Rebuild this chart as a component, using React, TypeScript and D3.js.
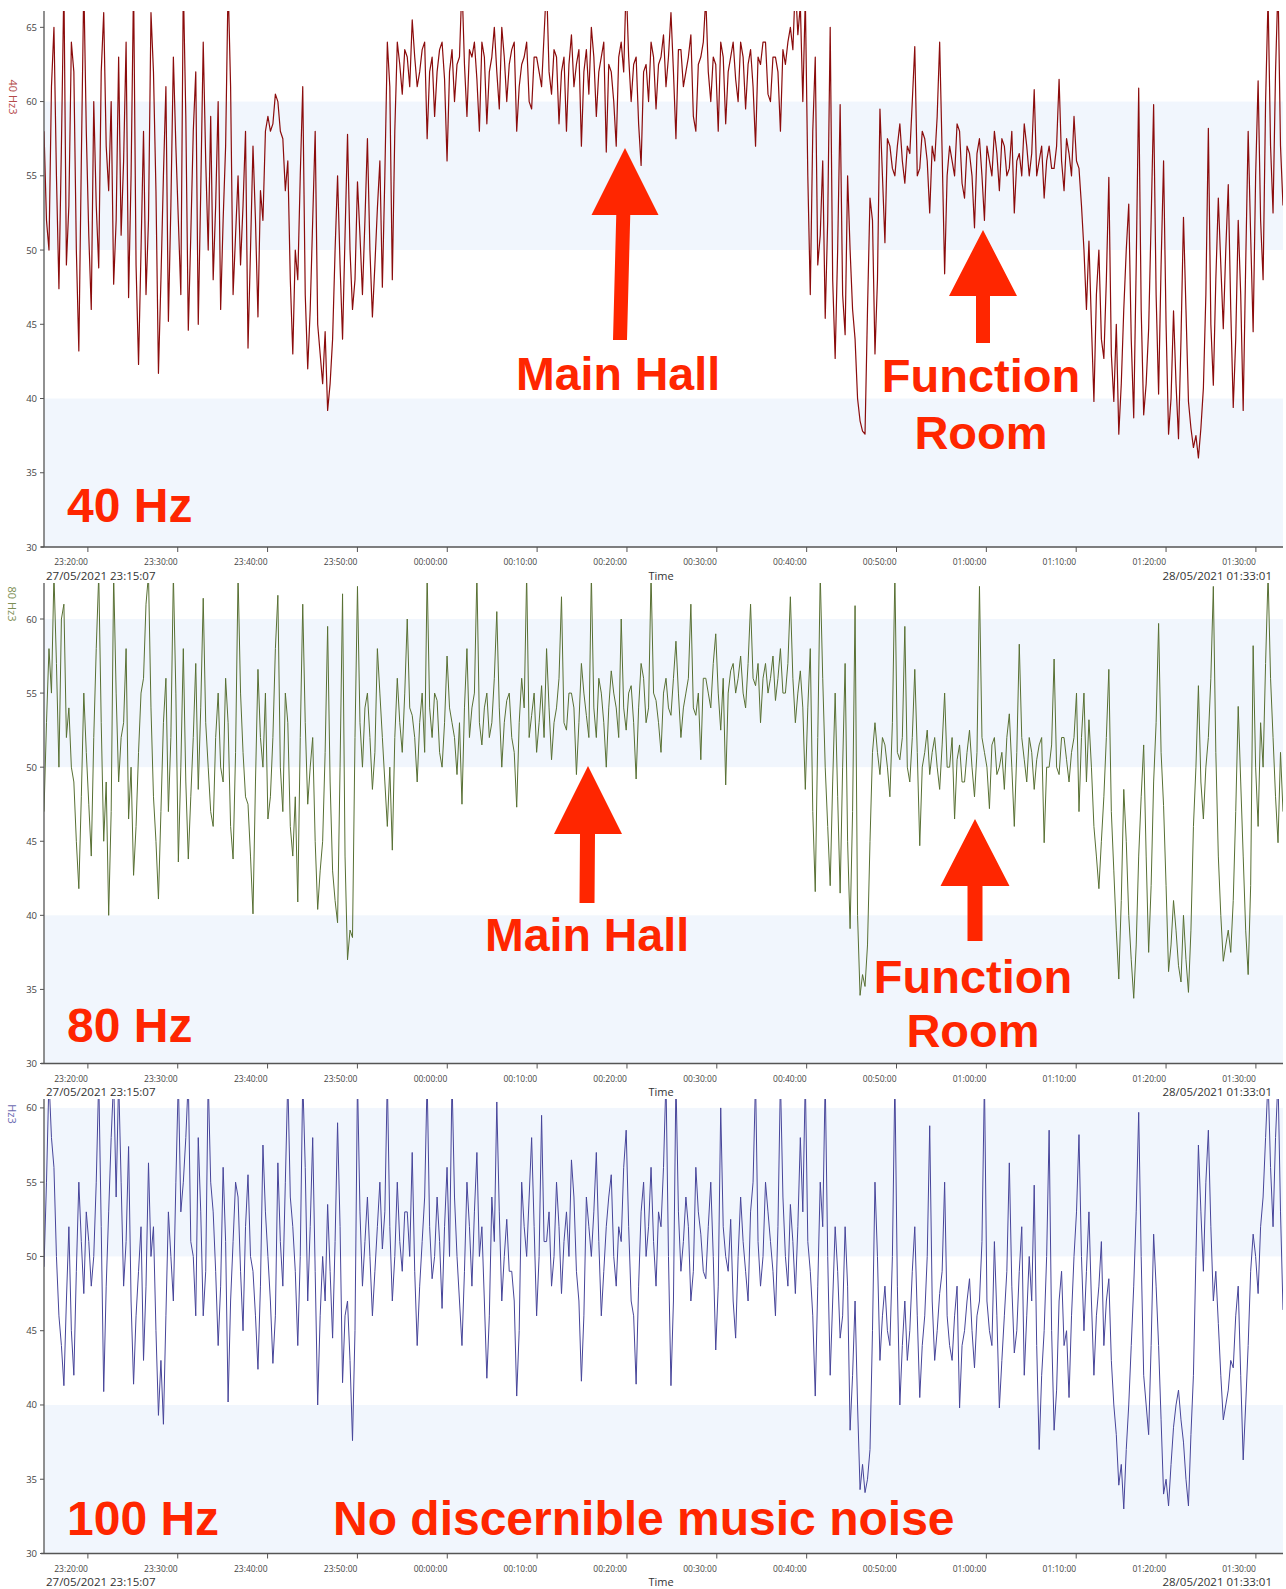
import React, { useEffect } from 'react';
import * as d3 from 'd3';

// ---------- data ----------
const startTime = new Date(2021, 4, 27, 23, 15, 7);
const endTime = new Date(2021, 4, 28, 1, 33, 1);
const startLabel = '27/05/2021 23:15:07';
const endLabel = '28/05/2021 01:33:01';
const axisTitle = 'Time';

// 40 Hz band level (dB), evenly spaced samples over the time span
const hz40: number[] = [
  58, 52, 50, 61, 65, 55, 47.4, 57, 68, 49, 53, 64, 62, 50, 43.2, 56, 68, 58, 51, 46,
  60, 53, 48.8, 62, 66, 57, 54, 60, 47.7, 52, 63, 51, 56, 64, 46.8, 55, 68, 49, 42.3, 50,
  58, 47, 52, 66, 62, 54, 41.7, 48, 55, 61, 45.2, 53, 63, 57, 52, 47, 68, 59, 44.6, 51,
  58, 62, 45, 54, 64, 56, 50, 59, 48, 53, 60, 46, 52, 57, 68, 61, 47, 51, 55, 49,
  53, 58, 43.4, 50, 57, 52, 45.5, 54, 52, 58,
  59, 58, 58.5, 60.5, 60, 58, 57.5, 54,
  56, 48, 43, 50, 48, 55, 61, 47, 42, 46, 52, 58, 45, 43, 41, 44.5, 39.2, 41, 44, 50,
  55, 49, 44, 51, 57.8, 50, 46, 48, 54.6, 51, 47, 52, 57.5, 50, 45.5, 49, 52.8, 56, 47.5, 55,
  64, 61, 48, 58,
  // main hall
  64, 62.5, 60.5, 63.5, 63, 61, 65.5, 63, 61, 62, 63.5, 64, 57.5, 62, 63, 59, 62, 63.5, 64, 61.5,
  56, 62, 63.5, 60, 62.5, 63, 68, 62.5, 59, 63.5, 63, 64, 61.5, 58, 64, 63, 58.5, 62, 63, 65,
  62, 59.5, 65, 63, 60, 62.5, 63.5, 64, 58, 61, 62.5, 63, 64, 60, 59.5, 63, 63, 62, 61, 64.5,
  68, 62, 60.5, 63.5, 63, 58.5, 62, 63, 58, 62.5, 64.5, 61, 62.5, 63.5, 57, 62, 63.5, 60.5, 65, 63,
  59, 62, 63, 64, 56.6, 62.5, 62, 60, 57, 63, 64, 62, 68, 63, 60, 62.5, 63, 58.5, 55.7, 62,
  62.5, 60, 64, 63, 59.5, 62.5, 63, 64.5, 61, 63, 66, 62, 57.5, 63.5, 63.5, 61, 62, 63, 64.5, 59,
  58, 62.5, 63, 64, 67, 62, 60, 63, 62.5, 58, 64, 63, 58.5, 62, 63, 64, 61.5, 60, 64, 63,
  59.5, 62.5, 63.5, 61, 57, 63, 62.5, 64, 64, 60.5, 60, 63, 63, 62, 58, 63.5, 62.5, 64, 65, 63.5,
  68, 64.5,
  66.5, 60, 67, 55, 47, 58, 63, 49, 51, 56, 45.4, 52, 65, 48, 42.7, 50, 59.8, 47, 44.3, 55,
  50, 46, 44, 40, 38.5, 37.8, 37.6, 46,
  53.5, 52, 43, 48, 59.5, 55, 50.5, 57.5,
  // function room
  57, 55.5, 55, 57, 58.5, 56, 54.5, 57, 56.5, 60, 63.7, 55, 55.5, 58, 57.5, 56, 52.5, 57, 56, 59,
  64, 56.5, 48.4, 55, 57, 56, 55, 58.5, 58, 54.5, 53.5, 57, 56.5, 55, 51.5, 56.5, 57.5, 55, 52, 57,
  56, 55, 58, 56.5, 54, 57.5, 57, 55, 55.5, 58, 52.5, 56, 56.5, 55, 58.5, 57, 55, 56.5, 60.8, 55,
  56, 57, 53.5, 56, 57, 55.5, 55.5, 57, 61.5, 56, 54, 57.5, 56.5, 55,
  59, 56, 55.5, 53, 50, 46,
  50.6, 45, 39.8, 47, 50, 44, 42.7, 48, 54.9, 43, 39.8, 45, 37.6, 41, 46, 50, 53.1, 44, 38.7, 49,
  60.9, 46, 38.9, 41, 44.7, 52, 59.8, 47, 40.3, 49, 56, 45, 37.6, 40, 45.9, 41, 37.3, 44, 52.2, 46,
  39.8, 38, 36.7, 37.5, 36, 38, 40.7, 47, 58.2, 45, 40.9, 48, 53.5, 49, 44.7, 50, 54.4, 46, 39.4, 44,
  52, 47, 39.2, 49,
  58, 51, 44.5, 55, 61.4, 52, 48, 60, 67, 57, 52.5, 62, 68, 57, 53,
];

// 80 Hz band level (dB)
const hz80: number[] = [
  47, 53, 58, 55, 63, 57, 50, 60, 61, 52, 54, 50, 49, 45, 41.8, 48, 55, 51, 47.5, 44,
  52, 58, 63, 53, 45, 49, 40, 47, 63, 55, 49, 52, 53, 58, 46.5, 50, 42.7, 46, 51, 55,
  56, 61, 63, 54, 48, 45, 41.1, 47, 53, 56, 47, 52, 63, 55, 43.6, 50, 58, 49, 43.8, 48,
  52, 57, 48.5, 54, 61.4, 53, 50, 47, 46, 52, 55, 50, 49, 56, 53, 46, 43.8, 51, 63, 55,
  51, 48, 47.5, 44, 40.1, 49, 56.6, 52, 50, 55, 46.5, 48, 52, 58,
  61.6, 50, 47, 55, 53, 46, 44, 48, 40.9, 52, 61, 53, 47.5, 50, 52, 45,
  40.4, 43, 45, 51, 59.5, 49, 43, 41, 39.5, 50, 61.7, 44, 37, 39, 38.5, 52,
  // main hall
  62.2, 53, 50, 54, 55, 52, 48.5, 51, 58, 55, 52, 49, 46, 50, 44.4, 52, 56, 53, 51, 55,
  60, 54, 53.5, 52, 49, 53, 55, 51, 63, 54, 52, 55, 54.5, 51, 50, 53, 57.5, 54, 53, 52,
  49.5, 53, 47.5, 54, 58, 52, 54, 55, 63, 53, 51.5, 54, 55, 52, 53, 56, 60.5, 54, 50, 53,
  54.5, 55, 52, 51, 47.3, 53, 56, 54, 63, 52, 53.5, 55, 51, 53, 55.5, 52, 58, 54, 50.5, 53,
  54, 56, 61.5, 53, 52.5, 55, 55, 54, 49.5, 53, 57, 55, 53.5, 52, 63, 54, 52, 56, 55, 53,
  50, 54, 56.5, 55, 54, 52, 60, 54, 52.5, 55, 55.5, 53, 49.2, 54, 57, 56, 53, 54, 63, 55,
  54.5, 53, 51, 55, 56, 54, 53.5, 56, 58.5, 55, 52, 54, 55, 56, 61, 54, 53.5, 55, 50.5, 56,
  56, 55, 54, 57, 59, 55, 52.5, 56, 48.8, 55, 56.5, 57, 55, 56, 57.5, 55, 54, 57, 61, 56,
  55.5, 57, 53, 56, 57, 55, 56, 57.5, 54.5, 56, 58, 55, 55, 57, 61.5, 56, 53, 55, 56.5, 54,
  48.5, 54, 58, 47, 41.6, 52, 63, 56, 50, 46, 42, 49, 55, 48, 41.5, 50, 57, 45, 39.1, 47,
  60.9, 40, 34.6, 36, 35.2, 38, 45, 51,
  // function room
  53, 51, 49.5, 52, 51.5, 50, 48, 53, 63, 51, 50.5, 52, 59.5, 50, 49, 52, 56.6, 51, 44.7, 50,
  51, 52.5, 49.5, 51, 52, 50, 48.5, 51.5, 55, 50, 50, 52, 46.5, 50.5, 51.5, 49, 49, 51, 52.5, 50,
  48, 51, 62.2, 52, 51, 50, 47.2, 51.5, 52, 49.5, 50, 51, 48.5, 52, 53.6, 50, 46, 51, 58.3, 52,
  50.5, 49, 52, 51, 48.5, 50.5, 51.5, 52, 44.9, 50, 50, 51.5, 57.3, 50, 49.5, 52, 52, 50.5, 49, 51,
  52, 55,
  47, 52, 55, 49, 53.2, 50, 46, 44, 41.8, 45, 48, 52, 56.6, 47, 43, 39, 35.7, 41, 48.5, 45,
  40, 37, 34.4, 38, 44, 48, 51.5, 44, 37.5, 42, 49, 53, 59.7, 51, 47.4, 42, 36.2, 38, 41, 39,
  36.6, 35.5, 40, 37, 34.8, 39, 46, 50, 55.5, 49, 46.5, 50, 52, 56, 62.2, 51, 44, 40, 36.9, 38,
  39, 37.5, 41, 47, 54.1, 49, 44, 39, 36, 42, 58.2, 50, 46, 53, 50, 57, 63, 56, 52, 48,
  44.9, 51, 47,
];

// 100 Hz band level (dB)
const hz100: number[] = [
  49.3, 55, 62, 58, 56, 50, 46, 44, 41.3, 47, 52, 45, 42, 49, 55, 51, 47.5, 53, 51, 48,
  50, 55, 62, 52, 40.9, 48, 53, 58, 62, 54, 62, 55, 48, 51, 57.4, 47, 41.4, 46, 49, 52,
  43, 48, 56.3, 50, 52, 45, 39.3, 43, 38.7, 46,
  53, 50, 47, 55, 62, 53, 55, 58, 62, 51, 50, 46, 58, 53, 46, 49, 62, 55, 53, 49,
  44, 48, 56, 51, 40.2, 47, 51, 55, 54, 49, 45, 52, 55.5, 50, 49, 46, 42.4, 48, 57.5, 53,
  50, 47, 42.8, 46, 56.3, 51, 48, 55, 62, 54, 52, 49, 44, 50, 62, 56, 47, 52, 58, 49,
  40, 46, 50, 47, 53.5, 49, 44.5, 51, 59, 52, 41.5, 46, 47, 43, 37.6, 45,
  62, 53, 48, 51, 54, 50, 46, 49, 52, 55, 50.5, 53, 62, 52, 47, 50, 55, 51, 49, 53,
  53, 50, 57, 49, 44, 48, 51, 54, 62, 52, 48.5, 50, 54, 51, 46.5, 52, 56, 50, 62, 54,
  50, 47, 44, 49, 55, 52, 48, 53, 57, 50, 52, 47, 41.8, 46, 54, 51, 60.4, 53, 47, 50,
  52.5, 49, 49, 47, 40.6, 45, 55, 52, 50, 54, 58, 52, 46, 50, 59.5, 51, 51, 53, 48, 50,
  55, 52, 47.5, 51, 53, 50, 56.5, 54, 49, 47, 41.6, 46, 54, 52, 50, 53, 57, 51, 46, 49,
  52, 54, 55.5, 50, 48, 52, 51, 56, 58.5, 52, 47, 46, 41.4, 48, 53, 55, 50, 52, 56, 51,
  48, 53, 52, 56, 62, 50, 41.3, 47, 62, 53, 49, 51, 54, 52, 47, 49, 56, 53, 51.5, 49,
  48.5, 52, 55, 50, 43.7, 48, 60, 52, 50, 49, 52.5, 47, 44.5, 50, 54, 51, 49, 47, 53, 55,
  62, 51, 48, 50, 55, 53, 51, 49, 46, 52, 62, 54, 50, 48, 53.5, 51, 47.5, 52, 58, 53,
  62, 51, 49, 46, 40.6, 48, 55, 52, 62, 50, 42, 47, 52, 49, 44.5, 46, 52, 48, 38.3, 42,
  47, 40, 34.3, 36, 34.1, 35, 37, 45, 55, 50, 43, 46,
  48, 45, 44, 50, 62, 48, 40, 44, 47, 43, 45, 49, 52, 46, 40.5, 44, 46, 50, 58.8, 47,
  43, 45, 47.5, 49, 55, 46, 44, 43, 46, 48, 39.8, 44, 45, 47, 48.5, 45, 42.5, 46, 47, 51,
  62, 47, 45, 44, 51, 46, 39.8, 43, 46, 49, 56.3, 48, 43.5, 45, 49, 52, 42, 46, 50, 47,
  54.8, 44, 37, 42, 45, 50, 58.5, 45, 38.3, 41, 47, 49, 44, 45, 40.5, 46, 50, 53,
  58.2, 50, 45, 49, 53, 47, 42, 46, 48, 51, 44, 47, 48.5, 43, 40, 38, 34.6, 36, 33, 37,
  40, 44, 48, 53, 59.7, 50, 42, 40, 38, 44, 51.5, 48, 44, 39, 34, 35, 33.2, 36, 38.5, 40,
  41, 39, 37.5, 35, 33.2, 38, 42, 50, 57.5, 53, 49, 55, 58.5, 52, 47, 49, 45.5, 42, 39, 40,
  41, 43, 42.5, 46, 48, 42, 36.3, 40, 44, 49, 51.5, 50, 47.5, 52, 54, 58, 62, 56, 52, 58,
  62, 53, 46.4,
];

const yTickValues = [30, 35, 40, 45, 50, 55, 60, 65];
const bandRanges: [number, number][] = [[30, 40], [50, 60]];

// ---------- layout ----------
const W = 1286;
const H = 1589;
const LEFT = 44;
const RIGHT = 1283;
const RED = '#ff2600';
const TEXT_FONT = "'Open Sans', 'DejaVu Sans', sans-serif";
const ANNOT_FONT = "'Liberation Sans', Arial, sans-serif";

type Panel = {
  values: number[];
  color: string;
  labelColor: string;
  top: number;
  bottom: number;
  yMax: number;
  yLabel: string;
  yLabelX: number;
  yLabelY: number;
  strokeWidth: number;
};

const panels: Panel[] = [
  { values: hz40, color: '#8b0c0c', labelColor: '#b44a4a', top: 11, bottom: 547, yMax: 66.1, yLabel: '40 Hz3', yLabelX: 13, yLabelY: 97, strokeWidth: 1.2 },
  { values: hz80, color: '#587033', labelColor: '#7d8f55', top: 583, bottom: 1063.5, yMax: 62.43, yLabel: '80 Hz3', yLabelX: 12, yLabelY: 604, strokeWidth: 1.0 },
  { values: hz100, color: '#47459a', labelColor: '#6a68b0', top: 1099, bottom: 1553.5, yMax: 60.6, yLabel: 'Hz3', yLabelX: 12, yLabelY: 1114, strokeWidth: 1.0 },
];

type Arrow = { tx: number; ty: number; headW: number; headH: number; shaftW: number; by: number; bx: number };
const arrows: Arrow[] = [
  { tx: 625, ty: 148, headW: 67, headH: 67, shaftW: 14, by: 340, bx: 620 },
  { tx: 983, ty: 230, headW: 68, headH: 66, shaftW: 14, by: 343, bx: 983 },
  { tx: 588, ty: 766, headW: 68, headH: 68, shaftW: 15, by: 903, bx: 587 },
  { tx: 975, ty: 819, headW: 69, headH: 67, shaftW: 15, by: 941, bx: 975 },
];

type Label = { text: string; x: number; y: number; anchor: 'start' | 'middle'; size: number };
const labels: Label[] = [
  { text: 'Main Hall', x: 618, y: 390, anchor: 'middle', size: 46.5 },
  { text: 'Function', x: 981, y: 392, anchor: 'middle', size: 47 },
  { text: 'Room', x: 981, y: 449, anchor: 'middle', size: 47 },
  { text: '40 Hz', x: 67, y: 522, anchor: 'start', size: 48 },
  { text: 'Main Hall', x: 587, y: 951, anchor: 'middle', size: 46.5 },
  { text: 'Function', x: 973, y: 993, anchor: 'middle', size: 47 },
  { text: 'Room', x: 973, y: 1047, anchor: 'middle', size: 47 },
  { text: '80 Hz', x: 67, y: 1042, anchor: 'start', size: 48 },
  { text: '100 Hz', x: 67, y: 1535, anchor: 'start', size: 48 },
  { text: 'No discernible music noise', x: 333, y: 1535, anchor: 'start', size: 48 },
];

function arrowPath(a: Arrow): string {
  const hy = a.ty + a.headH;
  const stx = a.tx + (a.bx - a.tx) * (a.headH / (a.by - a.ty));
  const p = d3.path();
  p.moveTo(a.tx, a.ty);
  p.lineTo(a.tx + a.headW / 2, hy);
  p.lineTo(stx + a.shaftW / 2, hy);
  p.lineTo(a.bx + a.shaftW / 2, a.by);
  p.lineTo(a.bx - a.shaftW / 2, a.by);
  p.lineTo(stx - a.shaftW / 2, hy);
  p.lineTo(a.tx - a.headW / 2, hy);
  p.closePath();
  return p.toString();
}

const x = d3.scaleTime().domain([startTime, endTime]).range([LEFT, RIGHT]);
const xTicks = x.ticks(d3.timeMinute.every(10) as d3.TimeInterval);
const fmt = d3.timeFormat('%H:%M:%S');

function PanelView({ p, idx }: { p: Panel; idx: number }) {
  const y = d3.scaleLinear().domain([30, p.yMax]).range([p.bottom, p.top]);
  const n = p.values.length;
  const span = endTime.getTime() - startTime.getTime();
  const pts: [Date, number][] = p.values.map((v, i) => [new Date(startTime.getTime() + (i * span) / (n - 1)), v]);
  const line = d3.line<[Date, number]>().x((d) => x(d[0])).y((d) => y(d[1]));
  const ticks = yTickValues.filter((t) => t <= p.yMax);
  const clipId = `clip-${idx}`;
  return (
    <g>
      <defs>
        <clipPath id={clipId}>
          <rect x={LEFT} y={p.top} width={RIGHT - LEFT} height={p.bottom - p.top} />
        </clipPath>
      </defs>
      {bandRanges.map(([a, b], i) => (
        <rect key={i} x={LEFT} y={y(b)} width={RIGHT - LEFT} height={y(a) - y(b)} fill="#f1f6fd" />
      ))}
      <path d={line(pts) || ''} fill="none" stroke={p.color} strokeWidth={p.strokeWidth} strokeLinejoin="round" clipPath={`url(#${clipId})`} />
      {/* y axis */}
      <line x1={LEFT} x2={LEFT} y1={p.top} y2={p.bottom} stroke="#555" strokeWidth={1.3} />
      {ticks.map((t) => (
        <g key={t}>
          <line x1={LEFT - 4} x2={LEFT} y1={y(t)} y2={y(t)} stroke="#555" strokeWidth={1} />
          <text x={LEFT - 7} y={y(t)} textAnchor="end" dominantBaseline="central" fontSize={9.5} fill="#444" fontFamily={TEXT_FONT}>{t}</text>
        </g>
      ))}
      <text transform={`translate(${p.yLabelX},${p.yLabelY}) rotate(90)`} textAnchor="middle" dominantBaseline="central" fontSize={11} fill={p.labelColor} fontFamily={TEXT_FONT}>{p.yLabel}</text>
      {/* x axis */}
      <line x1={LEFT - 3} x2={RIGHT} y1={p.bottom} y2={p.bottom} stroke="#555" strokeWidth={1.3} />
      {xTicks.map((t, i) => (
        <g key={i}>
          <line x1={x(t)} x2={x(t)} y1={p.bottom} y2={p.bottom + 5} stroke="#555" strokeWidth={1} />
          <text x={x(t)} y={p.bottom + 14.5} textAnchor="end" dominantBaseline="central" fontSize={8.5} fill="#444" fontFamily={TEXT_FONT}>{fmt(t)}</text>
        </g>
      ))}
      <text x={46} y={p.bottom + 28} dominantBaseline="central" fontSize={11.5} fill="#333" fontFamily={TEXT_FONT}>{startLabel}</text>
      <text x={1272} y={p.bottom + 28} textAnchor="end" dominantBaseline="central" fontSize={11.5} fill="#333" fontFamily={TEXT_FONT}>{endLabel}</text>
      <text x={661} y={p.bottom + 28} textAnchor="middle" dominantBaseline="central" fontSize={11} fill="#333" fontFamily={TEXT_FONT}>{axisTitle}</text>
    </g>
  );
}

export default function App() {
  useEffect(() => {
    document.body.style.margin = '0';
  }, []);
  return (
    <svg width={W} height={H} viewBox={`0 0 ${W} ${H}`} style={{ display: 'block', position: 'absolute', left: 0, top: 0, background: '#fff' }}>
      <rect x={0} y={0} width={W} height={H} fill="#fff" />
      {panels.map((p, i) => (
        <PanelView key={i} p={p} idx={i} />
      ))}
      {arrows.map((a, i) => (
        <path key={i} d={arrowPath(a)} fill={RED} />
      ))}
      {labels.map((l, i) => (
        <text key={i} x={l.x} y={l.y} textAnchor={l.anchor} fontSize={l.size} fontWeight="bold" fill={RED} fontFamily={ANNOT_FONT}>{l.text}</text>
      ))}
    </svg>
  );
}
